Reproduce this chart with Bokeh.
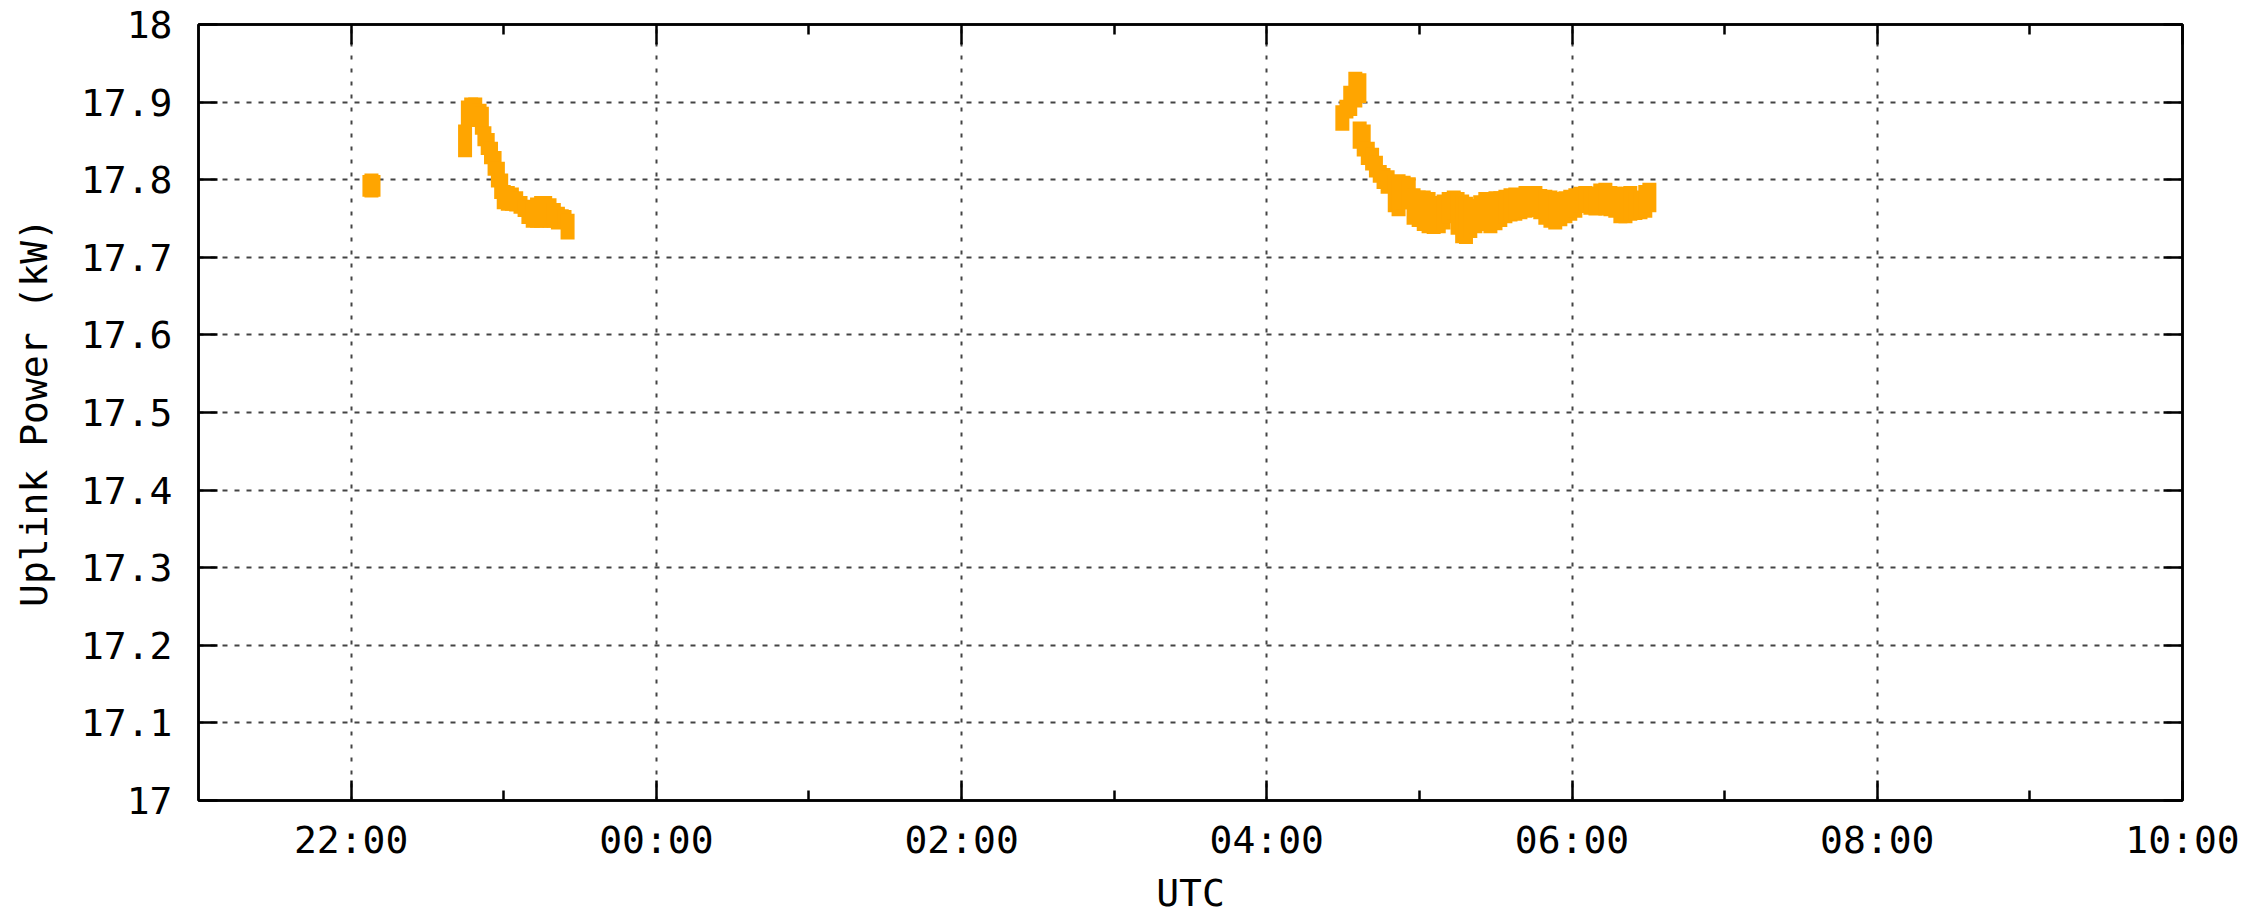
from datetime import datetime, timedelta

from bokeh.plotting import figure
from bokeh.models import Range1d, FixedTicker, LinearAxis, ColumnDataSource
from bokeh.embed import file_html
from bokeh.resources import INLINE

# ---------------- data ----------------
X_START = "21:00"
X_END = "10:00"
X_TICKS = ["22:00", "00:00", "02:00", "04:00", "06:00", "08:00", "10:00"]
X_TICK_LABELS = ["22:00", "00:00", "02:00", "04:00", "06:00", "08:00", "10:00"]
X_MINOR_TICKS = ["23:00", "01:00", "03:00", "05:00", "07:00", "09:00"]

Y_TICKS = [17.0, 17.1, 17.2, 17.3, 17.4, 17.5, 17.6, 17.7, 17.8, 17.9, 18.0]
Y_TICK_LABELS = ["17", "17.1", "17.2", "17.3", "17.4", "17.5", "17.6", "17.7", "17.8", "17.9", "18"]

X_LABEL = "UTC"
Y_LABEL = "Uplink Power (kW)"

# pass 1 (time, min, max of the noisy trace)
PASS1_TIME = ["22:07:12", "22:08:00", "22:08:48"]
PASS1_LOW = [17.787, 17.786, 17.787]
PASS1_HIGH = [17.797, 17.799, 17.797]

# pass 2
PASS2_TIME = ["22:44:48", "22:45:54", "22:47:12", "22:48:48", "22:50:30", "22:51:24", "22:52:24",
              "22:53:42", "22:55:00", "22:56:24", "22:57:42", "22:59:00", "23:00:00", "23:01:36",
              "23:03:12", "23:04:54", "23:06:36", "23:08:12", "23:09:42", "23:11:24", "23:13:06",
              "23:14:42", "23:16:18", "23:18:00", "23:19:42", "23:21:18", "23:22:48", "23:23:54",
              "23:25:06"]
PASS2_LOW = [17.838, 17.877, 17.877, 17.880, 17.877, 17.867, 17.852, 17.841, 17.829, 17.814,
             17.799, 17.784, 17.771, 17.769, 17.769, 17.768, 17.765, 17.761, 17.752, 17.747,
             17.747, 17.747, 17.749, 17.747, 17.747, 17.745, 17.748, 17.748, 17.732]
PASS2_HIGH = [17.862, 17.893, 17.897, 17.897, 17.889, 17.885, 17.860, 17.851, 17.840, 17.828,
              17.814, 17.799, 17.784, 17.783, 17.781, 17.776, 17.770, 17.765, 17.764, 17.764,
              17.768, 17.770, 17.770, 17.767, 17.761, 17.756, 17.753, 17.752, 17.747]

# pass 3
PASS3_TIME = ["04:29:42", "04:31:18", "04:32:48", "04:34:48", "04:36:24",
              "04:36:30", "04:38:06", "04:39:42", "04:41:24", "04:42:54", "04:44:24", "04:45:54",
              "04:47:30", "04:50:18", "04:51:48", "04:53:48", "04:55:48", "04:57:42", "04:59:42",
              "05:01:42", "05:03:36", "05:05:36", "05:07:36", "05:09:30", "05:11:30", "05:13:30",
              "05:15:00", "05:16:48", "05:18:18", "05:20:00", "05:22:00", "05:23:54", "05:25:54",
              "05:27:54", "05:29:54", "05:31:48", "05:33:48", "05:35:48", "05:37:42", "05:39:42",
              "05:41:42", "05:43:36", "05:45:36", "05:47:30", "05:49:30", "05:51:30", "05:53:24",
              "05:55:24", "05:57:24", "05:59:18", "06:01:18", "06:03:18", "06:05:12", "06:07:12",
              "06:09:12", "06:11:06", "06:13:06", "06:15:06", "06:17:00", "06:19:00", "06:21:00",
              "06:22:54", "06:24:54", "06:26:54", "06:28:48", "06:30:24"]
PASS3_LOW = [17.872, 17.888, 17.891, 17.902, 17.908,
             17.849, 17.839, 17.828, 17.821, 17.812, 17.805, 17.797, 17.791,
             17.767, 17.762, 17.771, 17.771,
             17.751, 17.748, 17.743, 17.740, 17.739, 17.740, 17.745, 17.753, 17.758,
             17.738, 17.727, 17.726,
             17.734, 17.740, 17.743, 17.744, 17.740, 17.744, 17.748, 17.753, 17.755, 17.756,
             17.758, 17.760, 17.762, 17.761, 17.758, 17.751, 17.747, 17.745, 17.749, 17.753,
             17.756, 17.760, 17.767, 17.766, 17.764, 17.763, 17.764, 17.763, 17.762, 17.760,
             17.753, 17.753, 17.756, 17.757, 17.758, 17.760, 17.767]
PASS3_HIGH = [17.887, 17.894, 17.912, 17.930, 17.928,
              17.866, 17.862, 17.840, 17.832, 17.822, 17.810, 17.806, 17.803,
              17.797, 17.798, 17.796, 17.794,
              17.780, 17.777, 17.777, 17.775, 17.768, 17.770, 17.772, 17.775, 17.777,
              17.775, 17.772, 17.769,
              17.766, 17.766, 17.771, 17.775, 17.775, 17.776, 17.776, 17.778, 17.780, 17.781,
              17.779, 17.783, 17.783, 17.783, 17.779, 17.778, 17.777, 17.775, 17.773, 17.776,
              17.778, 17.780, 17.782, 17.783, 17.782, 17.782, 17.786, 17.787, 17.783, 17.782,
              17.781, 17.782, 17.783, 17.775, 17.777, 17.784, 17.787]

TRACE_COLOR = "#FFA500"
FONT = "DejaVu Sans Mono"

# ---------------- helpers ----------------
BASE = datetime(2000, 1, 1)
EPOCH = datetime(1970, 1, 1)


def to_ms(s):
    parts = [int(v) for v in s.split(":")]
    while len(parts) < 3:
        parts.append(0)
    h, m, sec = parts
    day = 0 if h >= 12 else 1
    dt = BASE + timedelta(days=day, hours=h, minutes=m, seconds=sec)
    return (dt - EPOCH).total_seconds() * 1000.0


times = PASS1_TIME + PASS2_TIME + PASS3_TIME
lows = PASS1_LOW + PASS2_LOW + PASS3_LOW
highs = PASS1_HIGH + PASS2_HIGH + PASS3_HIGH
assert len(times) == len(lows) == len(highs)

src = ColumnDataSource(dict(t=[to_ms(s) for s in times], lo=lows, hi=highs))

x_major = [to_ms(s) for s in X_TICKS]
x_minor = [to_ms(s) for s in X_MINOR_TICKS]

# ---------------- figure ----------------
p = figure(width=2259, height=919, x_axis_type="datetime",
           x_range=Range1d(to_ms(X_START), to_ms(X_END)), y_range=Range1d(17, 18),
           output_backend="svg", toolbar_location=None,
           min_border_left=198, min_border_right=77, min_border_top=24, min_border_bottom=119)
p.background_fill_color = "white"
p.border_fill_color = "white"
p.outline_line_color = "black"
p.outline_line_width = 2.5

x_ticker = FixedTicker(ticks=x_major, minor_ticks=x_minor)
y_ticker = FixedTicker(ticks=Y_TICKS, minor_ticks=[])

xa = p.xaxis[0]
xa.ticker = x_ticker
xa.major_label_overrides = dict(zip(x_major, X_TICK_LABELS))
xa.axis_label = X_LABEL
ya = p.yaxis[0]
ya.ticker = y_ticker
ya.major_label_overrides = dict(zip(Y_TICKS, Y_TICK_LABELS))
ya.axis_label = Y_LABEL

top = LinearAxis(ticker=x_ticker, major_label_overrides={t: "" for t in x_major})
right = LinearAxis(ticker=y_ticker, major_label_overrides={t: "" for t in Y_TICKS})
p.add_layout(top, "above")
p.add_layout(right, "right")

for ax in (xa, ya, top, right):
    ax.axis_line_color = "black"
    ax.axis_line_width = 2.5
    ax.major_tick_line_color = "black"
    ax.major_tick_line_width = 2.5
    ax.minor_tick_line_color = "black"
    ax.minor_tick_line_width = 2.5
    ax.major_tick_out = 0
    ax.minor_tick_out = 0
    ax.major_label_text_font = FONT
    ax.major_label_text_color = "black"
    ax.axis_label_text_font = FONT
    ax.axis_label_text_font_style = "normal"
    ax.axis_label_text_font_size = "38px"
    ax.axis_label_text_color = "black"

for ax in (xa, top):
    ax.major_tick_in = 20
    ax.minor_tick_in = 10
for ax in (ya, right):
    ax.major_tick_in = 19
    ax.minor_tick_in = 0
    ax.minor_tick_line_color = None

xa.major_label_text_font_size = "38px"
ya.major_label_text_font_size = "38px"
xa.major_label_standoff = 17
xa.axis_label_standoff = 6
ya.major_label_standoff = 26
ya.axis_label_standoff = 22
for ax in (top, right):
    ax.major_label_text_font_size = "0px"
    ax.major_label_standoff = 0

p.xgrid.ticker = x_ticker
p.ygrid.ticker = y_ticker
p.xgrid.grid_line_color = "#444444"
p.xgrid.grid_line_width = 2
p.xgrid.grid_line_dash = "4 9"
p.ygrid.grid_line_color = "#444444"
p.ygrid.grid_line_width = 2
p.ygrid.grid_line_dash = "5 7"

p.segment(x0="t", y0="lo", x1="t", y1="hi", source=src,
          line_color=TRACE_COLOR, line_width=14, line_cap="square")

open("out.html", "w").write(file_html(p, INLINE))
